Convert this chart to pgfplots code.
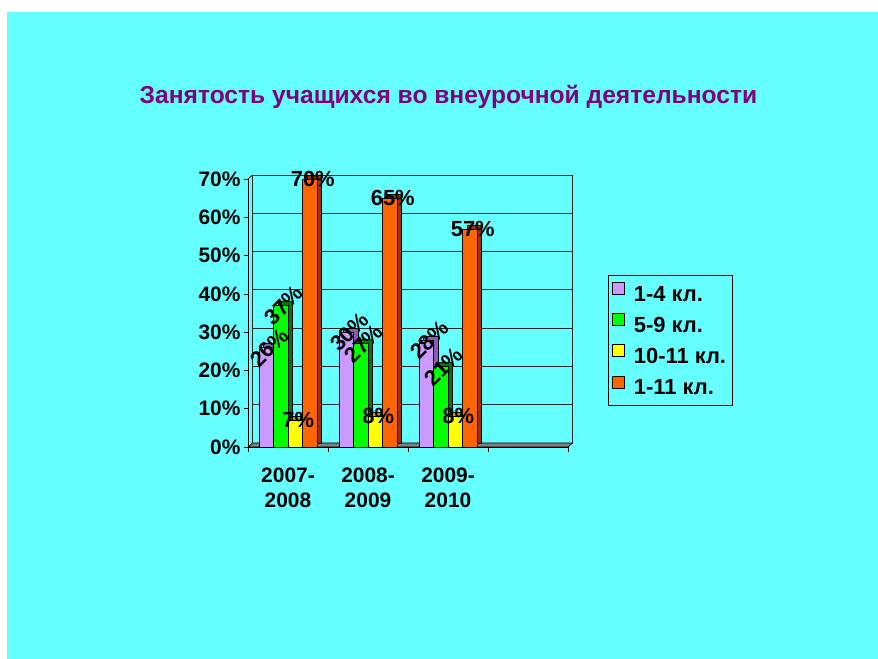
\documentclass[border=0pt]{standalone}
\usepackage{fontspec}
\setmainfont{Liberation Sans}
\usepackage{pgfplots}
\usepackage{pgfplotstable}
\pgfplotsset{compat=1.18}
\definecolor{bgc}{HTML}{66FFFF}
\definecolor{lav}{HTML}{CC99FF}
\definecolor{lavd}{HTML}{8A5CB8}
\definecolor{grn}{HTML}{00FF00}
\definecolor{grnd}{HTML}{007A00}
\definecolor{yel}{HTML}{FFFF00}
\definecolor{yeld}{HTML}{A8A800}
\definecolor{org}{HTML}{FF6600}
\definecolor{orgd}{HTML}{993300}
\definecolor{titlec}{HTML}{800080}
\pgfplotstableread{
x a b c d
0 26 37 7 70
1 30 27 8 65
2 28 21 8 57
}\data
\begin{document}
\begin{tikzpicture}[x=1bp,y=1bp]
\useasboundingbox (0,0) rectangle (878,659);
\fill[white] (0,0) rectangle (878,659);
\fill[bgc] (7,0) rectangle (878,647);
\node[font=\bfseries\fontsize{24.7}{29}\selectfont, text=titlec] at (448.5,562) {Занятость учащихся во внеурочной деятельности};
\begin{axis}[
  at={(248bp,212bp)}, anchor=south west,
  scale only axis, width=320bp, height=268bp,
  ybar, bar width=14.5bp,
  xmin=-0.5, xmax=3.5, ymin=0, ymax=70,
  clip=false,
  axis x line*=bottom, axis y line*=left,
  axis line style={black, line width=0.8bp},
  xtick={0,1,2},
  xticklabels={{2007-\\2008},{2008-\\2009},{2009-\\2010}},
  xticklabel style={align=center, yshift=-13bp},
  minor xtick={-0.5,0.5,1.5,2.5,3.5},
  major x tick style={draw=none},
  minor x tick style={black, line width=0.6bp},
  tick align=outside,
  minor tick length=5bp,
  major tick length=4bp,
  ytick={0,10,...,70},
  yticklabel={\pgfmathprintnumber{\tick}\%},
  y tick style={black, line width=0.6bp},
  ticklabel style={font=\bfseries\fontsize{21}{25}\selectfont},
  /pgf/number format/assume math mode=true,
  ymajorgrids,
  major grid style={black!85, line width=0.8bp, xshift=4.5bp, yshift=4bp},
  legend style={at={(1.125,0.64)}, anchor=north west, fill=bgc, draw=black,
    line width=0.6bp, font=\bfseries\fontsize{22}{26}\selectfont,
    row sep=8bp, inner xsep=4bp, inner ysep=6bp,
    nodes={inner sep=2bp, text height=17bp, text depth=2bp},
    /tikz/every odd column/.append style={column sep=7bp}},
  legend cell align=left,
  legend image code/.code={\draw[#1, line width=0.6bp] (0bp,-0.5bp) rectangle (12bp,11.5bp);},
]
% back wall and floor
\draw[black!85, line width=0.8bp] ([xshift=4.5bp,yshift=4bp]axis cs:-0.5,0) rectangle ([xshift=4.5bp,yshift=4bp]axis cs:3.5,70);
\draw[black!85, line width=0.8bp] (axis cs:-0.5,70) -- ([xshift=4.5bp,yshift=4bp]axis cs:-0.5,70);
\filldraw[fill=gray, draw=black, line width=0.6bp] (axis cs:-0.5,0) -- (axis cs:3.5,0) -- ([xshift=4.5bp,yshift=4bp]axis cs:3.5,0) -- ([xshift=4.5bp,yshift=4bp]axis cs:-0.5,0) -- cycle;
% bars: shadow then front
\addplot[forget plot, fill=lavd, draw=black, line width=0.5bp, bar shift=-21.75bp, xshift=4.5bp, yshift=4bp] table[x=x,y=a]{\data};
\addplot[fill=lav, draw=black, line width=0.5bp, bar shift=-21.75bp] table[x=x,y=a]{\data};
\addplot[forget plot, fill=grnd, draw=black, line width=0.5bp, bar shift=-7.25bp, xshift=4.5bp, yshift=4bp] table[x=x,y=b]{\data};
\addplot[fill=grn, draw=black, line width=0.5bp, bar shift=-7.25bp] table[x=x,y=b]{\data};
\addplot[forget plot, fill=yeld, draw=black, line width=0.5bp, bar shift=7.25bp, xshift=4.5bp, yshift=4bp] table[x=x,y=c]{\data};
\addplot[fill=yel, draw=black, line width=0.5bp, bar shift=7.25bp] table[x=x,y=c]{\data};
\addplot[forget plot, fill=orgd, draw=black, line width=0.5bp, bar shift=21.75bp, xshift=4.5bp, yshift=4bp] table[x=x,y=d]{\data};
\addplot[fill=org, draw=black, line width=0.5bp, bar shift=21.75bp] table[x=x,y=d]{\data};
\legend{1-4 кл.,5-9 кл.,10-11 кл.,1-11 кл.}
% labels on top
\pgfplotsset{lbl/.style={forget plot, draw=none, fill=none,
  nodes near coords={\pgfmathprintnumber{\pgfplotspointmeta}\%},
  every node near coord/.append style={anchor=center, xshift=3bp, yshift=0bp, text=black,
    font=\bfseries\fontsize{22}{26}\selectfont, /pgf/number format/assume math mode=true}}}
\addplot[lbl, bar shift=-21.75bp, every node near coord/.append style={rotate=45}] table[x=x,y=a]{\data};
\addplot[lbl, bar shift=-7.25bp, every node near coord/.append style={rotate=45}] table[x=x,y=b]{\data};
\addplot[lbl, bar shift=7.25bp] table[x=x,y=c]{\data};
\addplot[lbl, bar shift=21.75bp] table[x=x,y=d]{\data};
\end{axis}
\end{tikzpicture}
\end{document}
